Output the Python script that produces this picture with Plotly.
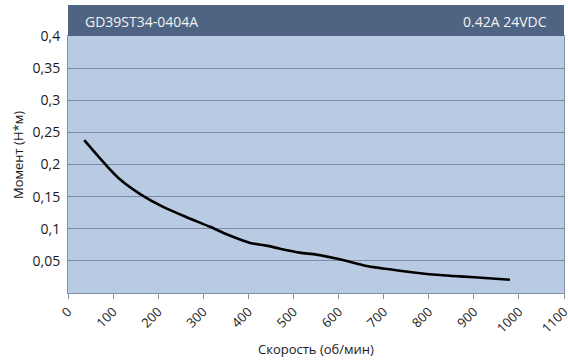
import plotly.graph_objects as go

speed = [36, 82, 115, 160, 211, 263, 315, 360, 404, 440, 470, 514, 551, 603, 662, 736, 801, 854, 901, 980]
torque = [0.238, 0.201, 0.177, 0.154, 0.134, 0.118, 0.103, 0.089, 0.078, 0.0737, 0.069, 0.0628, 0.0597, 0.0525, 0.042, 0.0347, 0.0291, 0.0265, 0.0245, 0.0207]
x_ticks = [0, 100, 200, 300, 400, 500, 600, 700, 800, 900, 1000, 1100]
y_ticks = [0.05, 0.1, 0.15, 0.2, 0.25, 0.3, 0.35, 0.4]
y_labels = ["0,05", "0,1", "0,15", "0,2", "0,25", "0,3", "0,35", "0,4"]
model = "GD39ST34-0404A"
rating = "0.42A 24VDC"
x_title = "Скорость (об/мин)"
y_title = "Момент (Н*м)"

FONT = "Open Sans"
TXT = "#1a1a1a"
fig = go.Figure()
fig.add_trace(go.Scatter(x=speed, y=torque, mode="lines",
                         line=dict(color="black", width=2.6, shape="spline", smoothing=0.7),
                         showlegend=False, hoverinfo="skip"))

fig.update_layout(
    width=568, height=362,
    margin=dict(l=68, r=4, t=36, b=69, autoexpand=False),
    paper_bgcolor="white", plot_bgcolor="#B9CAE3",
    font=dict(family=FONT, size=13, color=TXT),
    xaxis=dict(range=[0, 1100], tickvals=x_ticks, ticktext=[str(v) for v in x_ticks], tickangle=-45,
               showgrid=False, zeroline=False, showline=True, linecolor="#8391A5", linewidth=1, mirror=True,
               ticks="outside", ticklen=5, tickcolor="#8391A5", automargin=False, ticklabeloverflow="allow",
               tickfont=dict(size=13, family=FONT, color=TXT)),
    yaxis=dict(range=[0, 0.4], tickvals=y_ticks, ticktext=y_labels, showgrid=True, gridcolor="#7D8BA1", gridwidth=1,
               zeroline=False, showline=True, linecolor="#8391A5", linewidth=1, mirror=True, ticks="",
               automargin=False, ticklabelstandoff=4, ticklabeloverflow="allow",
               tickfont=dict(size=14, family=FONT, color=TXT)),
)
fig.add_shape(type="rect", xref="paper", yref="paper", x0=0, x1=1, y0=1, y1=1.121,
              fillcolor="#4E6482", line=dict(width=0), layer="above")
fig.add_annotation(text=model, xref="paper", yref="paper", x=0.0296, y=1.058, xanchor="left", yanchor="middle",
                   showarrow=False, font=dict(color="#F2F2F2", size=14, family=FONT))
fig.add_annotation(text=rating, xref="paper", yref="paper", x=0.9704, y=1.058, xanchor="right", yanchor="middle",
                   showarrow=False, font=dict(color="#F2F2F2", size=14, family=FONT))
fig.add_annotation(text=x_title, xref="paper", yref="paper", x=0.5, y=-0.218, xanchor="center", yanchor="middle",
                   showarrow=False, font=dict(color=TXT, size=13, family=FONT))
fig.add_annotation(text=y_title, xref="paper", yref="paper", x=-0.1008, y=0.537, xanchor="center", yanchor="middle",
                   textangle=-90, showarrow=False, font=dict(color=TXT, size=13, family=FONT))
fig.write_html("out.html", config={"displayModeBar": False},
               post_script="document.body.style.margin='0';document.body.style.padding='0';")
